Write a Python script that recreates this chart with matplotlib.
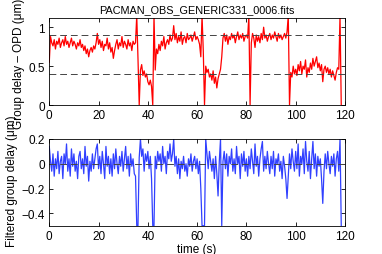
import numpy as np
import matplotlib
matplotlib.use('Agg')
import matplotlib.pyplot as plt

plt.rcParams['font.family'] = ['Liberation Sans', 'DejaVu Sans']
plt.rcParams['font.size'] = 8.5

# group delay - OPD (um), one value every 0.5 s
gd_opd = [
    0.55, 0.88, 0.80, 0.76, 0.84, 0.72, 0.82, 0.78, 0.86, 0.74,
    0.80, 0.84, 0.76, 0.88, 0.78, 0.82, 0.74, 0.80, 0.86, 0.76,
    0.82, 0.78, 0.72, 0.80, 0.76, 0.84, 0.74, 0.78, 0.70, 0.76,
    0.66, 0.72, 0.62, 0.70, 0.74, 0.68, 0.76, 0.72, 0.80, 0.92,
    0.78, 0.84, 0.74, 0.82, 0.70, 0.78, 0.76, 0.86, 0.72, 0.80,
    0.68, 0.74, 0.60, 0.70, 0.78, 0.84, 0.72, 0.80, 0.76, 0.88,
    0.74, 0.82, 0.78, 0.72, 0.84, 0.76, 0.80, 0.70, 0.82, 0.78,
    0.80, 1.15, 0.60, 0.00, 0.45, 0.52, 0.38, 0.44, 0.36, 0.40,
    0.30, 0.26, 0.32, 0.24, 0.00, 1.15, 0.45, 0.72, 0.66, 0.78,
    0.70, 0.82, 0.76, 0.88, 0.72, 0.80, 0.84, 0.78, 0.90, 0.82,
    0.86, 1.02, 0.84, 0.92, 0.80, 0.88, 0.82, 0.94, 0.78, 0.86,
    0.88, 0.80, 0.92, 0.84, 0.86, 0.90, 0.82, 0.88, 0.94, 0.84,
    0.88, 0.84, 0.78, 0.62, 1.15, 0.70, 0.00, 0.50, 0.42, 0.46,
    0.36, 0.40, 0.32, 0.44, 0.28, 0.36, 0.22, 0.34, 0.40, 0.46,
    0.62, 0.86, 0.92, 0.82, 0.90, 0.78, 0.88, 0.84, 0.92, 0.86,
    0.90, 0.80, 0.88, 0.94, 0.84, 0.90, 0.86, 0.92, 0.82, 0.88,
    0.90, 0.86, 1.15, 0.00, 0.80, 0.92, 0.86, 0.74, 0.90, 0.82,
    0.88, 0.80, 0.92, 0.84, 1.00, 0.86, 0.90, 0.82, 0.88, 0.92,
    0.84, 0.90, 0.86, 0.94, 0.88, 0.82, 0.92, 0.86, 0.90, 0.84,
    0.88, 0.92, 0.86, 0.94, 1.15, 0.00, 0.42, 0.36, 0.50, 0.40,
    0.46, 0.38, 0.52, 0.44, 0.56, 0.40, 0.50, 0.46, 0.58, 0.36,
    0.48, 0.42, 0.54, 0.46, 0.60, 0.50, 0.56, 0.62, 0.48, 0.54,
    0.44, 0.52, 0.30, 0.46, 0.50, 0.42, 0.48, 0.40, 0.46, 0.36,
    0.44, 0.38, 0.32, 0.42, 0.48, 0.46, 1.15, 0.00,
]

# filtered group delay (um), same time base
gd_filt = [
    0.14, 0.02, -0.06, 0.08, -0.10, 0.04, -0.04, 0.10, -0.08, 0.02,
    0.06, -0.12, 0.08, 0.00, 0.16, -0.06, 0.04, -0.10, 0.12, -0.02,
    0.08, -0.06, 0.02, -0.12, 0.06, 0.10, -0.04, 0.04, -0.08, 0.14,
    -0.02, 0.06, -0.14, 0.02, -0.06, 0.08, -0.04, 0.04, 0.12, 0.16,
    -0.04, 0.06, -0.08, 0.10, 0.00, -0.12, 0.14, -0.02, 0.06, -0.08,
    0.04, -0.10, 0.08, -0.04, 0.12, 0.00, -0.08, 0.06, -0.02, 0.10,
    -0.06, 0.04, 0.14, -0.04, 0.06, -0.10, 0.08, -0.02, 0.04, -0.08,
    -0.10, -0.50, -0.50, 0.05, 0.20, 0.06, 0.12, -0.06, 0.08, 0.02,
    0.10, -0.04, 0.06, -0.12, -0.50, -0.50, 0.06, -0.04, 0.10, 0.02,
    0.08, -0.06, 0.14, 0.00, 0.06, -0.08, 0.10, 0.04, 0.16, 0.02,
    0.08, 0.20, -0.02, 0.06, -0.08, 0.04, -0.12, 0.02, -0.04, 0.06,
    -0.06, 0.00, -0.10, 0.04, -0.02, 0.08, -0.06, 0.02, 0.06, -0.04,
    0.04, -0.08, 0.02, -0.20, -0.50, -0.50, -0.50, 0.20, 0.08, -0.04,
    0.10, 0.02, -0.06, 0.04, -0.12, 0.06, -0.08, -0.26, 0.02, 0.20,
    -0.50, 0.02, 0.10, -0.04, 0.08, -0.10, 0.06, 0.00, 0.12, -0.06,
    0.04, -0.08, 0.14, 0.00, 0.06, -0.12, 0.08, -0.02, 0.10, -0.06,
    0.04, -0.10, 0.06, -0.04, 0.12, 0.02, -0.08, 0.16, -0.02, 0.06,
    -0.10, 0.04, 0.12, 0.18, -0.06, 0.06, -0.04, 0.10, 0.00, -0.08,
    0.06, -0.04, 0.10, -0.10, 0.04, 0.00, 0.08, -0.06, 0.02, -0.12,
    0.06, -0.02, -0.12, -0.28, -0.10, 0.08, -0.04, 0.12, 0.02, -0.06,
    0.10, -0.04, 0.16, -0.10, 0.06, 0.00, 0.12, -0.08, 0.18, 0.02,
    -0.06, 0.10, -0.12, 0.04, 0.18, -0.04, 0.08, -0.10, 0.06, -0.02,
    0.04, -0.12, -0.32, -0.06, 0.08, -0.04, 0.10, 0.00, -0.08, 0.06,
    -0.02, 0.08, -0.10, 0.04, 0.10, -0.06, 0.20, -0.50,
]

t = np.arange(len(gd_opd)) * 0.5
ref_levels = [0.9, 0.4]
title = 'PACMAN_OBS_GENERIC331_0006.fits'

fig = plt.figure(figsize=(3.82, 2.55), dpi=100)
ax1 = fig.add_axes([0.129, 0.584, 0.774, 0.342])
ax2 = fig.add_axes([0.129, 0.111, 0.774, 0.340])

ax1.plot(t, gd_opd, color='red', lw=0.9)
for lv in ref_levels:
    ax1.axhline(lv, color='#444444', lw=0.7, dashes=(7, 4))
ax1.set_xlim(0, 120)
ax1.set_ylim(0, 1.12)
ax1.set_yticks([0, 0.5, 1])
ax1.set_yticklabels(['0', '0.5', '1'])
ax1.set_xticks(range(0, 121, 20))
ax1.set_ylabel('Group delay \u2013 OPD (\u03bcm)')
ax1.yaxis.set_label_coords(-0.082, 0.48)
ax1.set_title(title, fontsize=7.8, pad=4)

ax2.plot(t, gd_filt, color='#3040ff', lw=0.9)
ax2.axhline(0, color='#444444', lw=0.7, dashes=(7, 4))
ax2.set_xlim(0, 120)
ax2.set_ylim(-0.5, 0.2)
ax2.set_yticks([-0.4, -0.2, 0, 0.2])
ax2.set_yticklabels(['\u22120.4', '\u22120.2', '0', '0.2'])
ax2.set_xticks(range(0, 121, 20))
ax2.set_ylabel('Filtered group delay (\u03bcm)')
ax2.yaxis.set_label_coords(-0.106, 0.53)
ax2.set_xlabel('time (s)', labelpad=1)

for ax in (ax1, ax2):
    ax.tick_params(direction='in', top=True, right=True, length=3, width=0.6, pad=3)
    for s in ax.spines.values():
        s.set_linewidth(0.6)

fig.savefig('out.png', dpi=100)
